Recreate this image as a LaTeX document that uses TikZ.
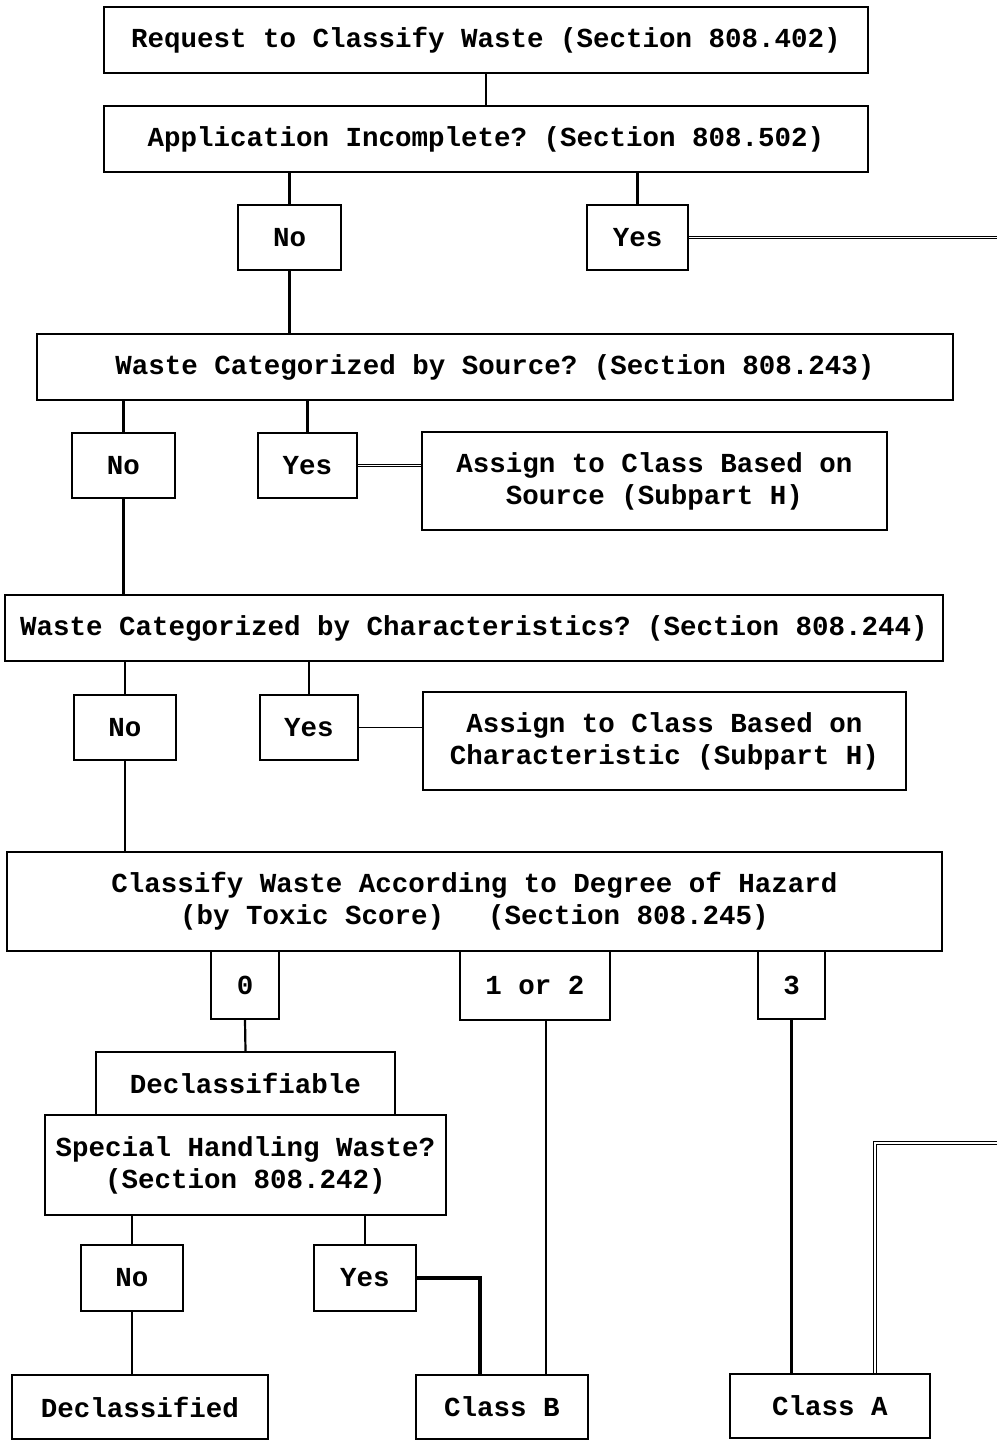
\documentclass[tikz,border=0pt]{standalone}
\usepackage{fontspec}
\setmonofont{Liberation Mono}
\usetikzlibrary{calc,positioning}

\tikzset{
  box/.style={draw,line width=2pt,inner sep=0pt,align=center,
    font=\ttfamily\bfseries\fontsize{27.5}{32}\selectfont},
  link/.style={line width=2.2pt},
  dlink/.style={line width=1pt,double,double distance=1.6pt}
}

\begin{document}
\begin{tikzpicture}[x=1pt,y=-1pt]
  \useasboundingbox (0,0) rectangle (997,1441);
  % top of the chart
  \node[box,minimum width=764pt,minimum height=66pt] (req) at (486,40) {Request to Classify Waste (Section 808.402)};
  \node[box,minimum width=764pt,minimum height=66pt] (app) at (486,139) {Application Incomplete? (Section 808.502)};
  \node[box,minimum width=103pt,minimum height=65pt] (no1) at (289.5,237.5) {No};
  \node[box,minimum width=101pt,minimum height=65pt] (yes1) at (637.5,237.5) {Yes};
  % by source
  \node[box,minimum width=916pt,minimum height=66pt] (src) at (495,367) {Waste Categorized by Source? (Section 808.243)};
  \node[box,minimum width=103pt,minimum height=65pt] (no2) at (123.5,465.5) {No};
  \node[box,minimum width=99pt,minimum height=65pt] (yes2) at (307.5,465.5) {Yes};
  \node[box,minimum width=465pt,minimum height=98pt] (asrc) at (654.5,481) {Assign to Class Based on\\Source (Subpart H)};
  % by characteristics
  \node[box,minimum width=938pt,minimum height=66pt] (chr) at (474,628) {Waste Categorized by Characteristics? (Section 808.244)};
  \node[box,minimum width=102pt,minimum height=65pt] (no3) at (125,727.5) {No};
  \node[box,minimum width=98pt,minimum height=65pt] (yes3) at (309,727.5) {Yes};
  \node[box,minimum width=483pt,minimum height=98pt] (achr) at (664.5,741) {Assign to Class Based on\\Characteristic (Subpart H)};
  % degree of hazard
  \node[box,minimum width=935pt,minimum height=99pt] (haz) at (474.5,901.5) {Classify Waste According to Degree of Hazard\\(by Toxic Score)\quad\ (Section 808.245)};
  \node[box,minimum width=68pt,minimum height=68pt] (zero) at (245,985) {0};
  \node[box,minimum width=150pt,minimum height=69pt] (onetwo) at (535,985.5) {1 or 2};
  \node[box,minimum width=67pt,minimum height=68pt] (three) at (791.5,985) {3};
  \node[box,minimum width=299pt,minimum height=63pt] (decl) at (245.5,1083.5) {Declassifiable};
  \node[box,minimum width=401pt,minimum height=100pt] (spec) at (245.5,1165) {Special Handling Waste?\\(Section 808.242)};
  \node[box,minimum width=102pt,minimum height=66pt] (no4) at (132,1278) {No};
  \node[box,minimum width=102pt,minimum height=66pt] (yes4) at (365,1278) {Yes};
  % results
  \node[box,minimum width=256pt,minimum height=64pt] (dcd) at (140,1407) {Declassified};
  \node[box,minimum width=172pt,minimum height=64pt] (clb) at (502,1407) {Class B};
  \node[box,minimum width=200pt,minimum height=64pt] (cla) at (830,1406) {Class A};
  \coordinate (offtop) at (997,237.5);
  \coordinate (offbot) at (997,1143);

  \draw[link] (req.south) -- (app.north);
  \draw[link] (no1.north) -- (no1.north |- app.south);
  \draw[link] (yes1.north) -- (yes1.north |- app.south);
  \draw[dlink] (yes1.east) -- (offtop);
  \draw[link] (no1.south) -- (no1.south |- src.north);
  \draw[link] (no2.north) -- (no2.north |- src.south);
  \draw[link] (yes2.north) -- (yes2.north |- src.south);
  \draw[dlink] (yes2.east) -- (yes2.east -| asrc.west);
  \draw[line width=1.4pt] (yes3.east) -- (yes3.east -| achr.west);
  \draw[link] (no2.south) -- (no2.south |- chr.north);
  \draw[link] (no3.north) -- (no3.north |- chr.south);
  \draw[link] (yes3.north) -- (yes3.north |- chr.south);
  \draw[link] (no3.south) -- (no3.south |- haz.north);
  \draw[link] (zero.south) -- (decl.north);
  \draw[link] (no4.north) -- (no4.north |- spec.south);
  \draw[link] (yes4.north) -- (yes4.north |- spec.south);
  \draw[link] (no4.south) -- (no4.south |- dcd.north);
  \draw[line width=3.5pt] (yes4.east) -| ([xshift=-22pt]clb.north);
  \draw[link] ([xshift=11pt]onetwo.south) -- ([xshift=11pt]onetwo.south |- clb.north);
  \draw[link] (three.south) -- (three.south |- cla.north);
  \draw[dlink] (offbot) -| ([xshift=45pt]cla.north);
\end{tikzpicture}
\end{document}
